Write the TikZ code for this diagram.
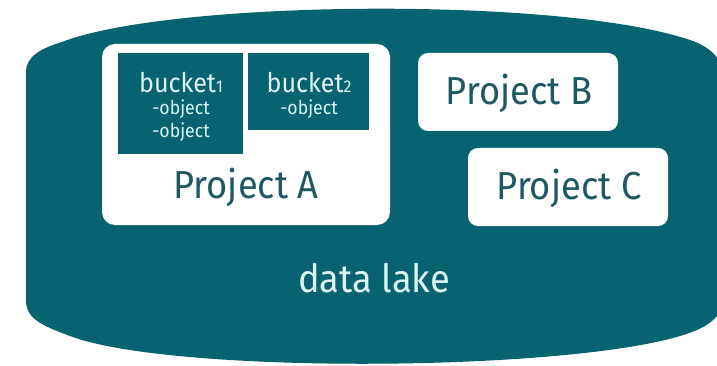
\documentclass[tikz,border=0pt]{standalone}
\usepackage{fontspec}
\setmainfont{Fira Sans}
\newfontfamily\condfont{Fira Sans}[FakeStretch=0.93]
\definecolor{lake}{RGB}{8,99,112}
\definecolor{projtext}{RGB}{30,88,98}
\definecolor{paletext}{RGB}{222,244,243}
\newcommand{\smalldigit}[1]{{\fontsize{17}{19}\selectfont #1}}
\begin{document}
\begin{tikzpicture}[x=1pt,y=-1pt,
  projbox/.style={fill=white, rounded corners=#1},
  bucketbox/.style={fill=lake},
  projlabel/.style={anchor=base, inner sep=0pt, text=projtext, font=\condfont\fontsize{39}{44}\selectfont},
  bucklabel/.style={anchor=base, inner sep=0pt, text=paletext, font=\condfont\fontsize{27}{30}\selectfont},
  objlabel/.style={anchor=base, inner sep=0pt, text=paletext, font=\condfont\fontsize{19}{22}\selectfont},
  lakelabel/.style={anchor=base, inner sep=0pt, text=paletext, font=\condfont\fontsize{39}{44}\selectfont}]
\useasboundingbox (0,0) rectangle (717,366);
% data lake body
\fill[lake] (26,300) -- (26,72) .. controls (26,56) and (42,48) .. (62,42)
  .. controls (170,0) and (560,-4) .. (690,40)
  .. controls (705,45) and (714,52) .. (720,62) -- (720,312)
  .. controls (712,324) and (700,330) .. (680,336)
  .. controls (560,372) and (170,374) .. (70,336)
  .. controls (40,325) and (26,318) .. (26,300) -- cycle;
% project boxes
\fill[projbox=13pt] (102,44) rectangle (390,225);
\fill[projbox=10pt] (418,53) rectangle (618,131);
\fill[projbox=10pt] (468,148) rectangle (668,226);
% buckets
\fill[bucketbox] (118,53) rectangle (243,154);
\fill[bucketbox] (248,53) rectangle (369,130);
% texts
\node[bucklabel] (b1) at (181,93) {bucket\smalldigit{1}};
\node[objlabel] (b1o1) at (181,115) {-object};
\node[objlabel] (b1o2) at (181,138) {-object};
\node[bucklabel] (b2) at (309,93) {bucket\smalldigit{2}};
\node[objlabel] (b2o1) at (309,115) {-object};
\node[projlabel] (pA) at (246,199) {Project A};
\node[projlabel] (pB) at (519,105) {Project B};
\node[projlabel] (pC) at (569,200) {Project C};
\node[lakelabel] (dl) at (374,292) {data lake};
\end{tikzpicture}
\end{document}
